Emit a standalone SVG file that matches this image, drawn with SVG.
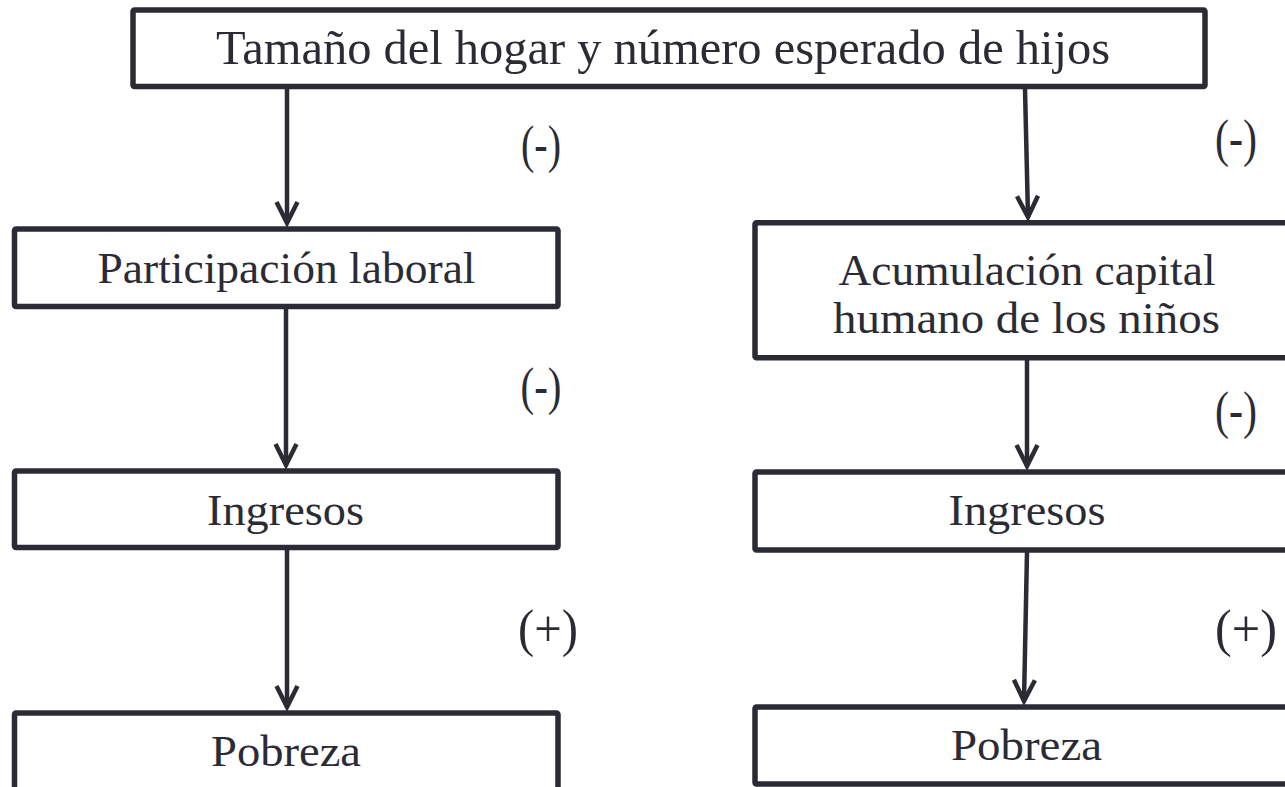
<svg xmlns="http://www.w3.org/2000/svg" width="1285" height="787" viewBox="0 0 1285 787">
<defs>
<style>
.box{fill:#ffffff;stroke:#2b2b36;stroke-width:5.5;stroke-linejoin:round}
.t{font-family:"Liberation Serif","Times New Roman",serif;fill:#2b2b36;text-anchor:middle}
.big{font-size:48px}
.lbl{font-size:45px}
.sign{font-size:52px}
.con{fill:none;stroke:#2b2b36;stroke-width:4.5}
</style>
<marker id="ah" markerUnits="userSpaceOnUse" viewBox="-26 -14 30 28" markerWidth="30" markerHeight="28" refX="0" refY="0" orient="auto">
<path d="M-21,-10.5 L0,0 L-21,10.5" fill="none" stroke="#2b2b36" stroke-width="4.5" stroke-linejoin="miter"/>
</marker>
</defs>
<rect width="1285" height="787" fill="#ffffff"/>
<g id="connectors">
<line class="con" x1="287" y1="89" x2="287" y2="223" marker-end="url(#ah)"/>
<line class="con" x1="286" y1="309" x2="286" y2="465" marker-end="url(#ah)"/>
<line class="con" x1="287" y1="550" x2="287" y2="707" marker-end="url(#ah)"/>
<line class="con" x1="1025" y1="89" x2="1028" y2="217" marker-end="url(#ah)"/>
<line class="con" x1="1027" y1="360" x2="1027" y2="466" marker-end="url(#ah)"/>
<line class="con" x1="1027" y1="552" x2="1024" y2="701" marker-end="url(#ah)"/>
<text class="t sign" x="541" y="162" textLength="40" lengthAdjust="spacingAndGlyphs">(-)</text>
<text class="t sign" x="1236" y="156" textLength="42" lengthAdjust="spacingAndGlyphs">(-)</text>
<text class="t sign" x="541" y="404" textLength="41" lengthAdjust="spacingAndGlyphs">(-)</text>
<text class="t sign" x="1236" y="428" textLength="42" lengthAdjust="spacingAndGlyphs">(-)</text>
<text class="t sign" x="548" y="646" textLength="60" lengthAdjust="spacingAndGlyphs">(+)</text>
<text class="t sign" x="1246" y="646" textLength="62" lengthAdjust="spacingAndGlyphs">(+)</text>
</g>
<g id="n-top">
<rect class="box" x="133" y="10" width="1072" height="76.5" rx="1.5"/>
<text class="t big" x="663" y="64" textLength="894" lengthAdjust="spacingAndGlyphs">Tamaño del hogar y número esperado de hijos</text>
</g>
<g id="n-participacion">
<rect class="box" x="14.5" y="229" width="543.5" height="77.5" rx="1.5"/>
<text class="t lbl" x="286.5" y="283" textLength="378" lengthAdjust="spacingAndGlyphs">Participación laboral</text>
</g>
<g id="n-ingresos-l">
<rect class="box" x="14.5" y="471" width="543.5" height="76.5" rx="1.5"/>
<text class="t lbl" x="285.5" y="525" textLength="157" lengthAdjust="spacingAndGlyphs">Ingresos</text>
</g>
<g id="n-pobreza-l">
<rect class="box" x="14.5" y="713" width="543.5" height="100" rx="1.5"/>
<text class="t lbl" x="286" y="766" textLength="150" lengthAdjust="spacingAndGlyphs">Pobreza</text>
</g>
<g id="n-acumulacion">
<rect class="box" x="755" y="222.7" width="543" height="135" rx="1.5"/>
<text class="t lbl" x="1027" y="285" textLength="377" lengthAdjust="spacingAndGlyphs">Acumulación capital</text>
<text class="t lbl" x="1026.5" y="333" textLength="387" lengthAdjust="spacingAndGlyphs">humano de los niños</text>
</g>
<g id="n-ingresos-r">
<rect class="box" x="755" y="472" width="543" height="78" rx="1.5"/>
<text class="t lbl" x="1027" y="525" textLength="157" lengthAdjust="spacingAndGlyphs">Ingresos</text>
</g>
<g id="n-pobreza-r">
<rect class="box" x="755" y="707" width="543" height="77" rx="1.5"/>
<text class="t lbl" x="1026.5" y="760" textLength="151" lengthAdjust="spacingAndGlyphs">Pobreza</text>
</g>
</svg>
